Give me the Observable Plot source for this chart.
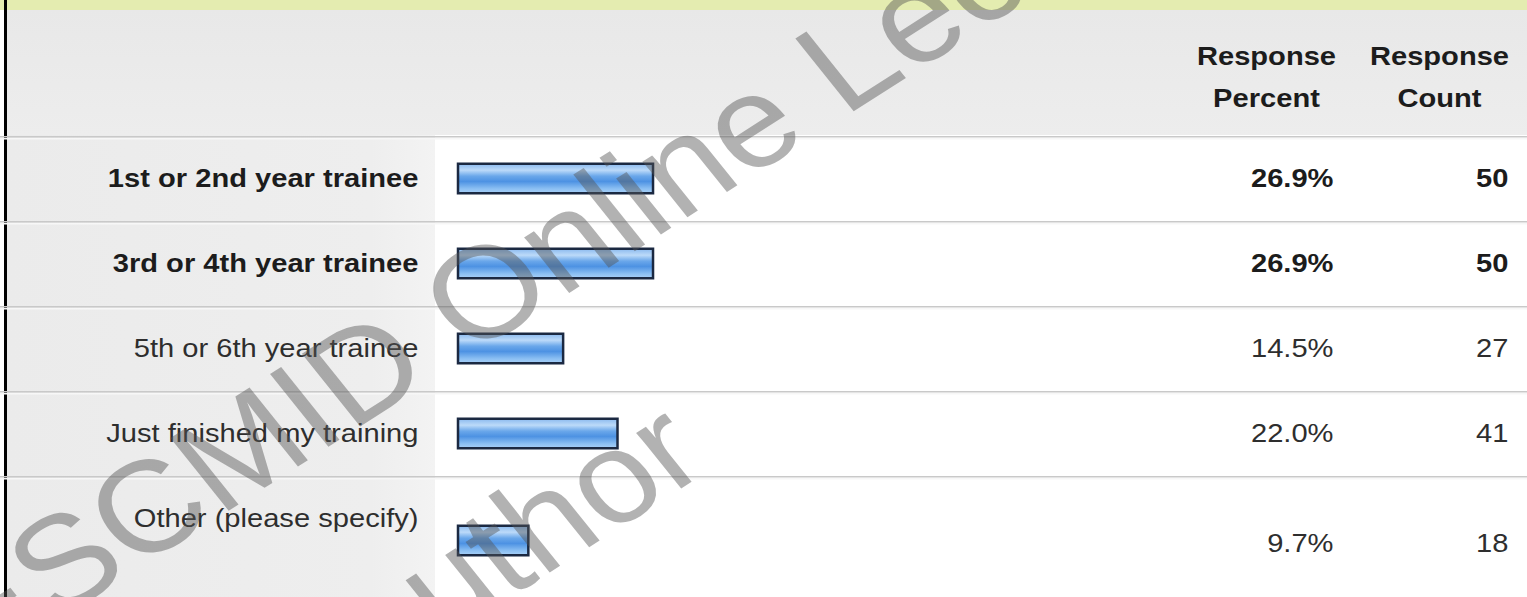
<!DOCTYPE html>
<html>
<head>
<meta charset="utf-8">
<script src="https://cdn.jsdelivr.net/npm/d3@7"></script>
<script src="https://cdn.jsdelivr.net/npm/@observablehq/plot@0.6"></script>
<style>
  html, body { margin: 0; padding: 0; background: #fff; }
  #wrap { position: relative; width: 1527px; height: 597px; overflow: hidden; background: #fff; }
  .bg { position: absolute; }
  #strip { left: 0; top: 0; width: 1527px; height: 10px; background: #e4ecb0; }
  #head { left: 7px; top: 10px; width: 1520px; height: 125px; background: linear-gradient(#e8e8e8, #ededed); }
  #leftcol { left: 7px; top: 135px; width: 428px; height: 462px; background: linear-gradient(90deg, #ebebeb, #eeeeee 85%, #f3f3f3); }
  #border { left: 4px; top: 0; width: 3px; height: 597px; background: #000; }
  #chart { position: absolute; left: 0; top: 0; }
</style>
</head>
<body>
<div id="wrap">
  <div class="bg" id="strip"></div>
  <div class="bg" id="head"></div>
  <div class="bg" id="leftcol"></div>
  <div class="bg" id="border"></div>
  <div id="chart"></div>
</div>
<script>
// ---- data ----
const categories = [
  "1st or 2nd year trainee",
  "3rd or 4th year trainee",
  "5th or 6th year trainee",
  "Just finished my training",
  "Other (please specify)"
];
const percents = [26.9, 26.9, 14.5, 22.0, 9.7];
const counts = [50, 50, 27, 41, 18];
const emphasized = [true, true, false, false, false];
const headerLines = [["Response", "Percent"], ["Response", "Count"]];
const watermark = ["ESCMID Online Lecture Library", "© by author"];

const rows = categories.map((category, i) => ({
  category, percent: percents[i], count: counts[i], bold: emphasized[i], last: i === categories.length - 1
}));

// ---- layout / style ----
const W = 1527, H = 597;
const bandTop = 135, bandBottom = 562.5;
const bw = (bandBottom - bandTop) / categories.length;
const barH = 30;
const FONT = 26;
const STRETCH = 1.12;           // the source screenshot is stretched horizontally
const otherBarShift = 22, otherValueShift = 25;
const labelRight = 418, percentRight = 1333, countRight = 1508;
const percentCenter = 1266, countCenter = 1439;

const regular = rows.filter(d => !d.last);
const lastRow = rows.filter(d => d.last);

function bars(data, extra) {
  return Plot.barX(data, {
    x: "percent", y: "category",
    fill: "url(#barGrad)", stroke: "#1b2942", strokeWidth: 2.5,
    insetTop: (bw - barH) / 2, insetBottom: (bw - barH) / 2,
    ...extra
  });
}
function rowTexts(data, extra, valueShift) {
  const base = {y: "category", frameAnchor: "left", textAnchor: "end", lineAnchor: "middle", fontSize: FONT};
  const out = [];
  const mk = (subset, weight, color) => [
    Plot.text(subset, {...base, text: "category", dx: labelRight, fontWeight: weight, fill: color}),
    Plot.text(subset, {...base, text: d => d.percent.toFixed(1) + "%", dx: percentRight, dy: valueShift, fontWeight: weight, fill: color}),
    Plot.text(subset, {...base, text: d => String(d.count), dx: countRight, dy: valueShift, fontWeight: weight, fill: color})
  ];
  const b = data.filter(d => d.bold), n = data.filter(d => !d.bold);
  if (b.length) out.push(...mk(b, "bold", "#1c1c1c"));
  if (n.length) out.push(...mk(n, "normal", "#2e2e2e"));
  return out;
}
function headerText(lines, cx) {
  return lines.map((line, j) => Plot.text([line], {
    text: d => d, frameAnchor: "top-left", dx: cx, dy: 56 + j * 42,
    textAnchor: "middle", lineAnchor: "middle", fontSize: FONT, fontWeight: "bold", fill: "#1c1c1c"
  }));
}

const chart = Plot.plot({
  width: W, height: H,
  margin: 0,
  style: {background: "transparent", fontFamily: "'Liberation Sans', Arial, sans-serif", maxWidth: "none"},
  x: {domain: [0, 100], range: [458, 1183], axis: null},
  y: {type: "band", domain: categories, range: [bandTop, bandBottom], padding: 0, axis: null},
  marks: [
    // row separators
    Plot.cell(categories, {y: d => d, fill: "#c9c9c9", insetBottom: bw - 2}),
    Plot.cell(categories, {y: d => d, fill: "#f7f7f7", insetTop: 2, insetBottom: bw - 4}),
    // bars
    bars(regular, {}),
    bars(lastRow, {dy: otherBarShift}),
    // labels and values
    ...rowTexts(regular, {}, 0),
    ...rowTexts(lastRow, {}, otherValueShift),
    // header
    ...headerText(headerLines[0], percentCenter),
    ...headerText(headerLines[1], countCenter),
    // watermark
    Plot.text([watermark[0]], {text: d => d, frameAnchor: "top-left", dx: -25, dy: 672, rotate: -35.6, textAnchor: "start", lineAnchor: "bottom", fontSize: 130, fill: "#555", fillOpacity: 0.45}),
    Plot.text([watermark[1]], {text: d => d, frameAnchor: "top-left", dx: 712, dy: 468, rotate: -35.6, textAnchor: "end", lineAnchor: "bottom", fontSize: 130, fill: "#555", fillOpacity: 0.45})
  ]
});

d3.select(chart).insert("defs", ":first-child").html(`
  <linearGradient id="barGrad" x1="0" y1="0" x2="0" y2="1">
    <stop offset="0" stop-color="#8ab9ee"/>
    <stop offset="0.22" stop-color="#bcdaf9"/>
    <stop offset="0.42" stop-color="#6aa7ea"/>
    <stop offset="0.6" stop-color="#4d92e3"/>
    <stop offset="0.85" stop-color="#8cc0f3"/>
    <stop offset="1" stop-color="#a9d0f7"/>
  </linearGradient>`);

// mimic the horizontal stretch of the source image on every text
d3.select(chart).selectAll("text").each(function() {
  const t = this.getAttribute("transform") || "";
  if (!t.startsWith("translate")) return;
  if (t.includes("rotate")) this.setAttribute("transform", t.replace(" rotate(", ` scale(${STRETCH},1) rotate(`));
  else this.setAttribute("transform", t + ` scale(${STRETCH},1)`);
});

document.getElementById("chart").appendChild(chart);
</script>
</body>
</html>
